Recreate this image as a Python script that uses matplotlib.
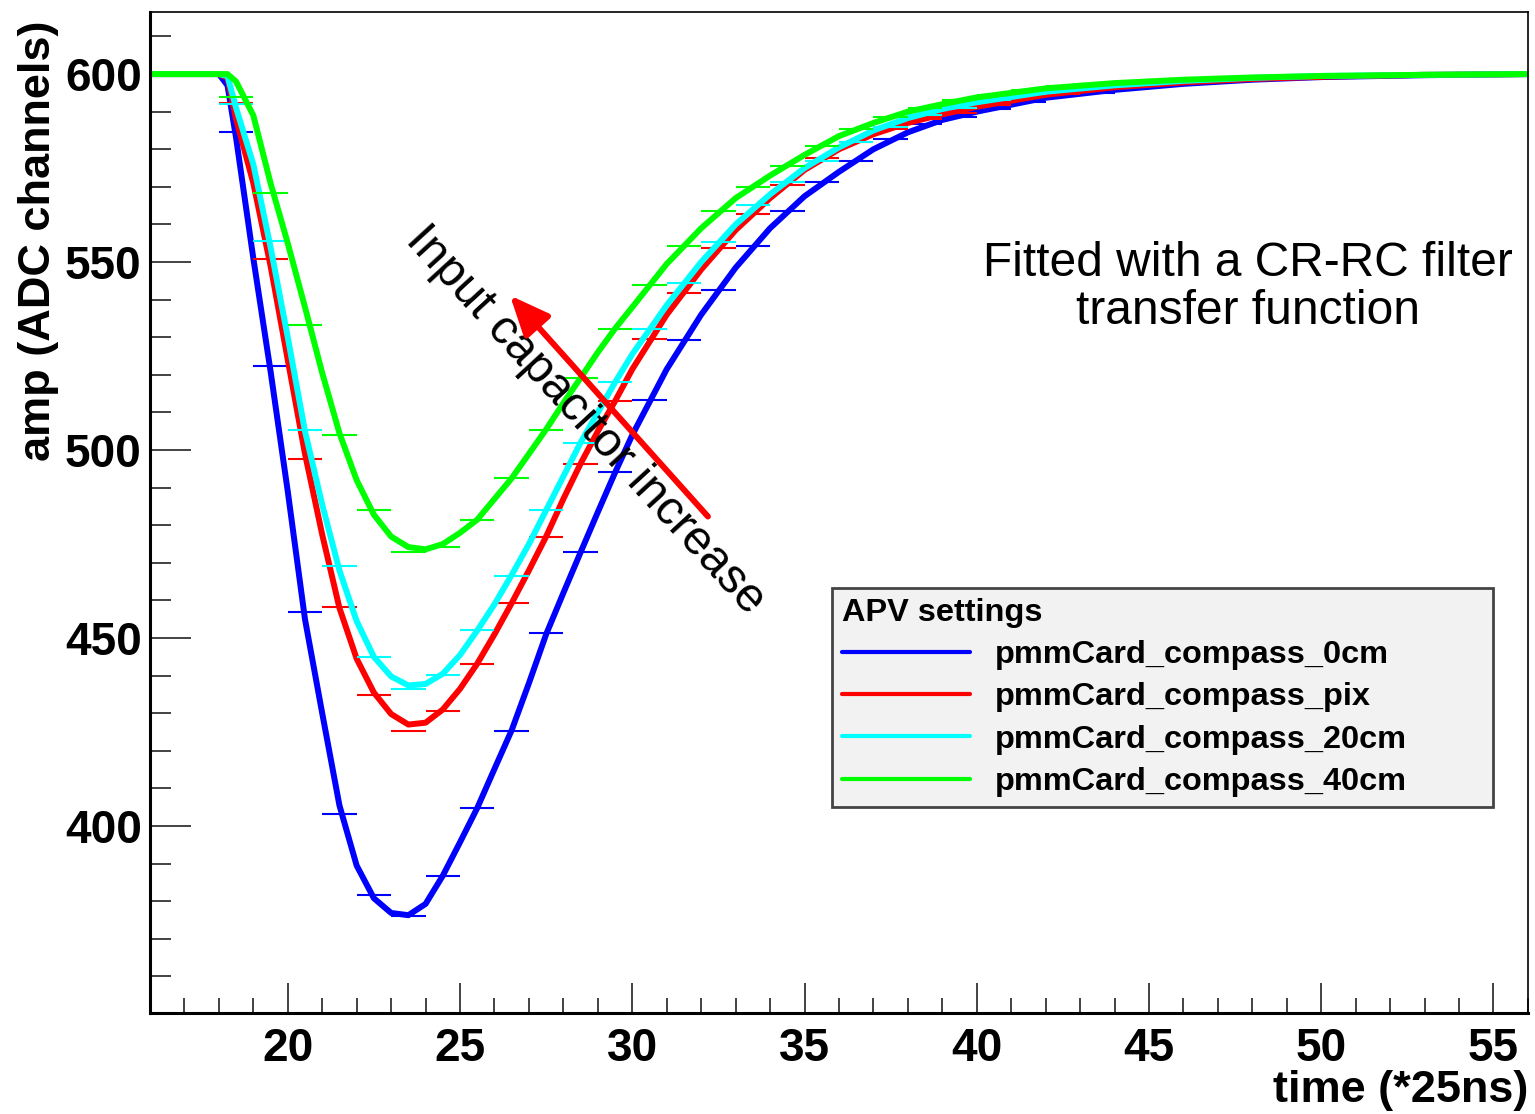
import numpy as np
import matplotlib.pyplot as plt
from matplotlib.ticker import MultipleLocator

# ROOT style look: Helvetica-like bold text everywhere
plt.rcParams['font.family'] = ['Liberation Sans', 'DejaVu Sans']
plt.rcParams['font.weight'] = 'bold'

# ------------------------------------------------------------
# APV pulse shapes for 4 input capacitances
# ------------------------------------------------------------
t_bins = np.arange(16.5, 56.0, 1.0)   # sample bin centres (*25ns)

amp_0cm = [600, 600, 584.6, 522.3, 456.9, 403.1, 381.6, 376.0, 386.8, 404.8,
           425.4, 451.3, 472.8, 494.1, 513.2, 529.2, 542.7, 554.4, 563.7, 571.3,
           576.8, 582.6, 586.6, 588.6, 590.8, 592.7, 594.5, 595.0, 596.3, 597.0,
           597.7, 598.3, 598.7, 599.0, 599.3, 599.5, 599.6, 599.8, 600.0, 600.2]
amp_pix = [600, 600, 592.4, 550.9, 497.7, 458.2, 434.8, 425.4, 430.5, 443.2,
           459.3, 477.0, 496.4, 513.0, 529.6, 541.8, 553.7, 562.7, 570.6, 577.7,
           581.9, 585.5, 588.0, 589.7, 591.8, 593.9, 594.8, 595.9, 596.8, 597.4,
           598.0, 598.4, 598.6, 598.8, 599.2, 599.4, 599.6, 599.8, 599.9, 600.0]
amp_20cm = [600, 600, 592.0, 555.6, 505.4, 469.1, 444.9, 436.5, 440.1, 452.1,
            466.5, 484.0, 501.9, 518.1, 532.3, 544.5, 555.3, 565.1, 571.3, 577.0,
            582.0, 586.0, 589.0, 591.0, 593.0, 594.6, 595.8, 596.8, 597.5, 598.1,
            598.6, 599.0, 599.3, 599.5, 599.7, 599.8, 599.9, 600.0, 600.0, 600.0]
amp_40cm = [600, 600, 593.9, 568.5, 533.2, 504.1, 484.0, 472.8, 474.3, 481.3,
            492.5, 505.4, 519.2, 532.3, 544.0, 554.3, 563.6, 569.9, 575.5, 581.0,
            585.5, 588.5, 591.0, 593.0, 594.5, 595.8, 596.7, 597.4, 598.0, 598.5,
            598.9, 599.2, 599.4, 599.6, 599.7, 599.8, 599.9, 600.0, 600.0, 600.0]

# CR-RC fit curves
t_fit = [16, 18, 18.25, 18.5, 19, 19.5, 20, 20.5, 21, 21.5, 22, 22.5, 23, 23.5,
         24, 24.5, 25, 25.5, 26, 26.5, 27, 27.5, 28, 28.5, 29, 29.5, 30,
         31, 32, 33, 34, 35, 36, 37, 38, 39, 40, 42, 44, 46, 48, 50, 53, 56]
fit_0cm = [600, 600, 597, 583, 551, 521, 489, 455, 430, 405.5, 389.5, 380.8, 376.9, 376.3,
           379.3, 386.8, 395.7, 404.8, 415.2, 425.5, 438, 451, 462, 472.8, 483.5, 494, 504,
           521.5, 536, 548.5, 559, 567.5, 574, 580, 584.5, 587.8, 590,
           593.7, 595.8, 597.4, 598.5, 599.2, 599.7, 600]
fit_pix = [600, 600, 599, 588, 571, 549, 524, 499, 477.5, 458, 444.5, 435.5, 429.8, 427,
           427.5, 431, 436.5, 443.2, 451, 459.3, 468, 477, 487, 496.4, 505, 513, 521.5,
           536, 548, 558.5, 567, 574.5, 580, 584, 587, 589.3, 591.3,
           594.5, 596.5, 597.8, 598.7, 599.3, 599.8, 600]
fit_20cm = [600, 600, 599.5, 591, 576, 554, 530, 505, 485.5, 468, 454.5, 445, 439.8, 437.4,
            437.8, 440.5, 445.5, 452, 459, 466.8, 475, 484, 493, 502, 510, 518, 525.5,
            538.5, 550, 560, 568, 575, 580.5, 585, 588.3, 590.7, 592.5,
            595.3, 597, 598.2, 599, 599.5, 599.8, 600]
fit_40cm = [600, 600, 600, 598, 589, 571, 555, 538, 520.5, 504.5, 492, 482.8, 477, 474.2,
            473.6, 475, 478, 481.5, 487, 492.5, 499, 505.5, 512.5, 519.2, 526, 532.3, 538,
            549.5, 559, 567, 573, 578.5, 583.5, 587, 590, 592, 593.8,
            596.2, 597.6, 598.5, 599.1, 599.5, 599.8, 600]

names = ['pmmCard_compass_0cm', 'pmmCard_compass_pix',
         'pmmCard_compass_20cm', 'pmmCard_compass_40cm']
colors = ['#0000ff', '#ff0000', '#00ffff', '#00ff00']

# ------------------------------------------------------------
fig = plt.figure(figsize=(15.35, 11.14), dpi=100)
ax = fig.add_axes([0.0977, 0.0907, 0.8977, 0.8985])

for amp, fit, col, name in zip([amp_0cm, amp_pix, amp_20cm, amp_40cm],
                               [fit_0cm, fit_pix, fit_20cm, fit_40cm],
                               colors, names):
    ax.errorbar(t_bins, amp, xerr=0.5, fmt='none', ecolor=col,
                elinewidth=1.5, capsize=0)
    ax.plot(t_fit, fit, color=col, lw=4.3, label=name,
            solid_joinstyle='round', solid_capstyle='round')

ax.set_xlim(16, 56)
ax.set_ylim(350.3, 616.5)

# ticks (ROOT like: inside, only bottom and left)
ax.xaxis.set_major_locator(MultipleLocator(5))
ax.xaxis.set_minor_locator(MultipleLocator(1))
ax.yaxis.set_major_locator(MultipleLocator(50))
ax.yaxis.set_minor_locator(MultipleLocator(10))
ax.tick_params(which='both', direction='in', top=False, right=False, color='#222222')
ax.tick_params(axis='x', which='major', length=21.6, width=1.2, pad=10, labelsize=33)
ax.tick_params(axis='x', which='minor', length=10.8, width=1.2)
ax.tick_params(axis='y', which='major', length=29.5, width=1.2, pad=6, labelsize=33)
ax.tick_params(axis='y', which='minor', length=14.8, width=1.2)

for spine in ['left', 'bottom']:
    ax.spines[spine].set_linewidth(2.2)
for spine in ['top', 'right']:
    ax.spines[spine].set_linewidth(1.2)

ax.set_xlabel('time (*25ns)', fontsize=32.5, fontweight='bold', loc='right')
ax.xaxis.set_label_coords(1.0, -0.057)
ax.set_ylabel('amp (ADC channels)', fontsize=32.5, fontweight='bold', loc='top')
ax.yaxis.set_label_coords(-0.066, 0.992)

# annotations
ax.text(0.797, 0.725, 'Fitted with a CR-RC filter\ntransfer function',
        transform=ax.transAxes, fontsize=34.5, fontweight='normal',
        ha='center', va='center', multialignment='center', linespacing=1.1)
ax.text(0.3157, 0.5924, 'Input capacitor increase', transform=ax.transAxes,
        fontsize=34.5, fontweight='normal', rotation=-47.5,
        rotation_mode='anchor', ha='center', va='center')
ax.annotate('', xy=(0.2613, 0.7168), xytext=(0.4049, 0.4960),
            xycoords='axes fraction', textcoords='axes fraction',
            arrowprops=dict(arrowstyle='-|>,head_length=0.6,head_width=0.26',
                            color='red', lw=4.3, mutation_scale=40,
                            shrinkA=0, shrinkB=0))

leg = ax.legend(loc='upper left', bbox_to_anchor=(0.495, 0.2078, 0.48, 0.2168),
                mode='expand', borderaxespad=0, fontsize=23.4, title='APV settings',
                title_fontproperties={'size': 23.4, 'weight': 'bold'},
                alignment='left', handlelength=3.95, handletextpad=0.77,
                labelspacing=0.38, borderpad=0.3, fancybox=False, framealpha=1)
leg.get_frame().set_facecolor('#f2f2f2')
leg.get_frame().set_edgecolor('#444444')
leg.get_frame().set_linewidth(2)
for line in leg.get_lines():
    line.set_linewidth(3)

plt.savefig('out.png', dpi=100)
